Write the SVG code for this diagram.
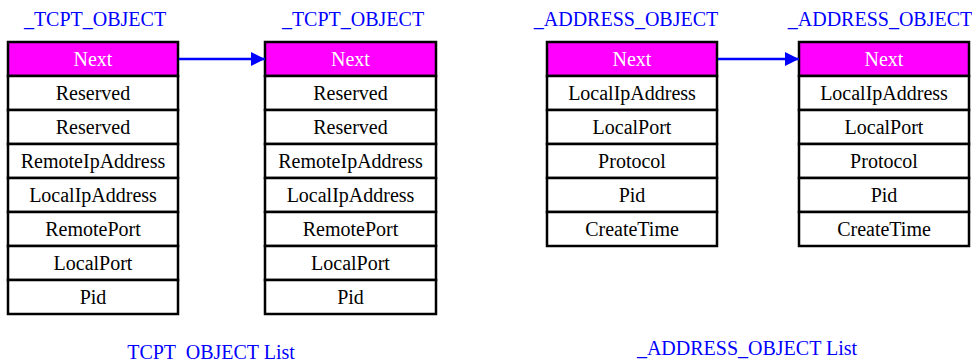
<svg xmlns="http://www.w3.org/2000/svg" width="972" height="362" viewBox="0 0 972 362">
  <defs>
    <style>
      text { font-family: "Liberation Serif", "Times New Roman", serif; font-size: 20px; text-anchor: middle; }
      .title { fill: #0000ff; }
      .cell { fill: #ffffff; stroke: #000000; stroke-width: 2.5; }
      .head { fill: #ff00ff; stroke: #000000; stroke-width: 2.5; }
      .htxt { fill: #ffffff; }
      .txt { fill: #000000; }
      .link { stroke: #0000ff; stroke-width: 2.5; fill: none; }
    </style>
    <marker id="arrow" viewBox="0 0 14 14" refX="14" refY="7" markerWidth="14" markerHeight="14" markerUnits="userSpaceOnUse" orient="auto">
      <path d="M0,0 L14,7 L0,14 Z" fill="#0000ff"/>
    </marker>
  </defs>

  <rect x="0" y="0" width="972" height="362" fill="#ffffff"/>

  <!-- first TCPT object -->
  <g id="tcpt1">
    <text class="title" x="95" y="26">_TCPT_OBJECT</text>
    <rect class="head" x="8" y="42" width="170" height="34"/>
    <text class="htxt" x="93" y="66">Next</text>
    <rect class="cell" x="8" y="76" width="170" height="34"/>
    <text class="txt" x="93" y="100">Reserved</text>
    <rect class="cell" x="8" y="110" width="170" height="34"/>
    <text class="txt" x="93" y="134">Reserved</text>
    <rect class="cell" x="8" y="144" width="170" height="34"/>
    <text class="txt" x="93" y="168">RemoteIpAddress</text>
    <rect class="cell" x="8" y="178" width="170" height="34"/>
    <text class="txt" x="93" y="202">LocalIpAddress</text>
    <rect class="cell" x="8" y="212" width="170" height="34"/>
    <text class="txt" x="93" y="236">RemotePort</text>
    <rect class="cell" x="8" y="246" width="170" height="34"/>
    <text class="txt" x="93" y="270">LocalPort</text>
    <rect class="cell" x="8" y="280" width="170" height="34"/>
    <text class="txt" x="93" y="304">Pid</text>
  </g>

  <!-- second TCPT object -->
  <g id="tcpt2">
    <text class="title" x="353" y="26">_TCPT_OBJECT</text>
    <rect class="head" x="265" y="42" width="171" height="34"/>
    <text class="htxt" x="350.5" y="66">Next</text>
    <rect class="cell" x="265" y="76" width="171" height="34"/>
    <text class="txt" x="350.5" y="100">Reserved</text>
    <rect class="cell" x="265" y="110" width="171" height="34"/>
    <text class="txt" x="350.5" y="134">Reserved</text>
    <rect class="cell" x="265" y="144" width="171" height="34"/>
    <text class="txt" x="350.5" y="168">RemoteIpAddress</text>
    <rect class="cell" x="265" y="178" width="171" height="34"/>
    <text class="txt" x="350.5" y="202">LocalIpAddress</text>
    <rect class="cell" x="265" y="212" width="171" height="34"/>
    <text class="txt" x="350.5" y="236">RemotePort</text>
    <rect class="cell" x="265" y="246" width="171" height="34"/>
    <text class="txt" x="350.5" y="270">LocalPort</text>
    <rect class="cell" x="265" y="280" width="171" height="34"/>
    <text class="txt" x="350.5" y="304">Pid</text>
  </g>

  <!-- first ADDRESS object -->
  <g id="addr1">
    <text class="title" x="626" y="26">_ADDRESS_OBJECT</text>
    <rect class="head" x="547" y="42" width="170" height="34"/>
    <text class="htxt" x="632" y="66">Next</text>
    <rect class="cell" x="547" y="76" width="170" height="34"/>
    <text class="txt" x="632" y="100">LocalIpAddress</text>
    <rect class="cell" x="547" y="110" width="170" height="34"/>
    <text class="txt" x="632" y="134">LocalPort</text>
    <rect class="cell" x="547" y="144" width="170" height="34"/>
    <text class="txt" x="632" y="168">Protocol</text>
    <rect class="cell" x="547" y="178" width="170" height="34"/>
    <text class="txt" x="632" y="202">Pid</text>
    <rect class="cell" x="547" y="212" width="170" height="34"/>
    <text class="txt" x="632" y="236">CreateTime</text>
  </g>

  <!-- second ADDRESS object -->
  <g id="addr2">
    <text class="title" x="880" y="26">_ADDRESS_OBJECT</text>
    <rect class="head" x="799" y="42" width="170" height="34"/>
    <text class="htxt" x="884" y="66">Next</text>
    <rect class="cell" x="799" y="76" width="170" height="34"/>
    <text class="txt" x="884" y="100">LocalIpAddress</text>
    <rect class="cell" x="799" y="110" width="170" height="34"/>
    <text class="txt" x="884" y="134">LocalPort</text>
    <rect class="cell" x="799" y="144" width="170" height="34"/>
    <text class="txt" x="884" y="168">Protocol</text>
    <rect class="cell" x="799" y="178" width="170" height="34"/>
    <text class="txt" x="884" y="202">Pid</text>
    <rect class="cell" x="799" y="212" width="170" height="34"/>
    <text class="txt" x="884" y="236">CreateTime</text>
  </g>

  <!-- Next pointers -->
  <g id="links">
    <line class="link" x1="179" y1="59" x2="265" y2="59" marker-end="url(#arrow)"/>
    <line class="link" x1="718" y1="59" x2="799" y2="59" marker-end="url(#arrow)"/>
  </g>

  <!-- list captions -->
  <g id="captions">
    <text class="title" x="211" y="359" xml:space="preserve">TCPT  OBJECT List</text>
    <text class="title" x="747" y="355">_ADDRESS_OBJECT List</text>
  </g>
</svg>
